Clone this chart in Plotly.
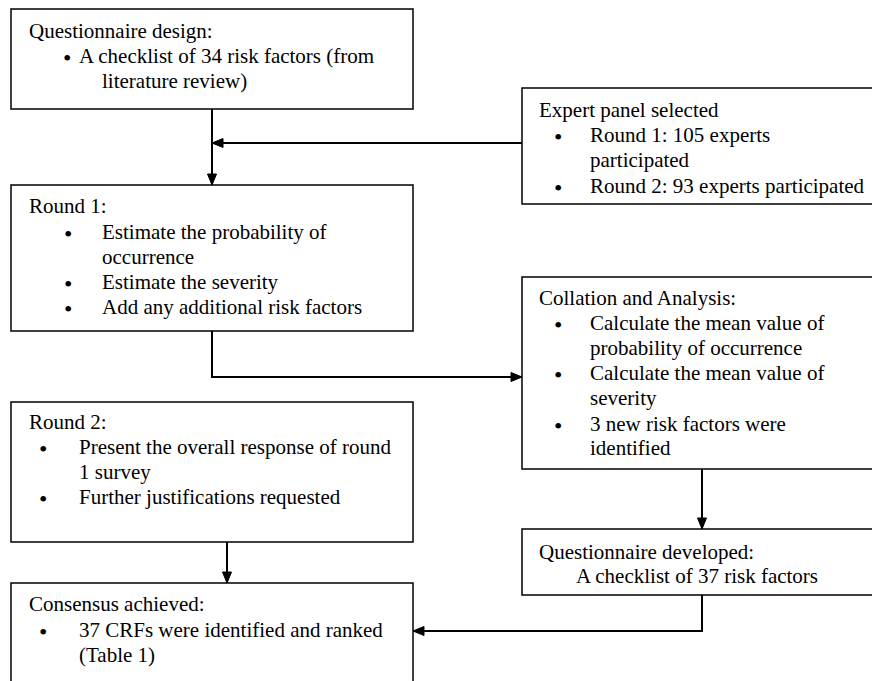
import plotly.graph_objects as go

# ---------------- content (text) ----------------
box_headers = [
    "Questionnaire design:",
    "Expert panel selected",
    "Round 1:",
    "Collation and Analysis:",
    "Round 2:",
    "Questionnaire developed:",
    "Consensus achieved:",
]
# each box: list of bullet items, each item a list of wrapped lines
box_items = [
    [["A checklist of 34 risk factors (from", "literature review)"]],
    [["Round 1: 105 experts", "participated"], ["Round 2: 93 experts participated"]],
    [["Estimate the probability of", "occurrence"], ["Estimate the severity"],
     ["Add any additional risk factors"]],
    [["Calculate the mean value of", "probability of occurrence"],
     ["Calculate the mean value of", "severity"],
     ["3 new risk factors were", "identified"]],
    [["Present the overall response of round", "1 survey"], ["Further justifications requested"]],
    [["A checklist of 37 risk factors"]],
    [["37 CRFs were identified and ranked", "(Table 1)"]],
]
box_bulleted = [True, True, True, True, True, False, True]

# ---------------- layout (positions, px) ----------------
box_rects = [
    (11, 9, 413, 109),
    (522, 88, 876, 204),
    (11, 185, 413, 331),
    (522, 277, 876, 469),
    (11, 402, 413, 542),
    (522, 529, 876, 595),
    (11, 583, 413, 720),
]
header_pos = [(27, 31), (537, 110), (27, 206), (537, 298), (27, 422), (537, 552), (27, 604)]
bullet_x = [67, 558, 68, 558, 43, None, 43]
first_text_x = [77, 588, 100, 588, 77, 574, 77]
cont_text_x = [100, 588, 100, 588, 77, 574, 77]
line_ys = [
    [56, 81],
    [135, 160, 186],
    [232, 257, 282, 307],
    [323, 348, 373, 398, 424, 448],
    [447, 472, 497],
    [576],
    [630, 655],
]
connectors = [
    [(212, 109), (212, 185)],
    [(522, 143), (212, 143)],
    [(212, 331), (212, 377), (522, 377)],
    [(702, 469), (702, 529)],
    [(227, 542), (227, 583)],
    [(702, 595), (702, 631), (413, 631)],
]

W, H = 872, 681
FONT = "Liberation Serif, Times New Roman, serif"
FS = 21

fig = go.Figure()
shapes = []
annotations = []

for i, (x0, y0, x1, y1) in enumerate(box_rects):
    shapes.append(dict(type="rect", xref="x", yref="y", x0=x0, y0=y0, x1=x1, y1=y1,
                       line=dict(color="black", width=1.5), fillcolor="white", layer="below"))
    hx, hy = header_pos[i]
    annotations.append(dict(x=hx, y=hy, xref="x", yref="y", text=box_headers[i],
                            showarrow=False, xanchor="left", yanchor="middle",
                            font=dict(family=FONT, size=FS, color="black")))
    k = 0
    for item in box_items[i]:
        for j, ln in enumerate(item):
            y = line_ys[i][k]
            k += 1
            tx = first_text_x[i] if j == 0 else cont_text_x[i]
            if j == 0 and box_bulleted[i]:
                annotations.append(dict(x=bullet_x[i], y=y + 2, xref="x", yref="y", text="•",
                                        showarrow=False, xanchor="center", yanchor="middle",
                                        font=dict(family=FONT, size=FS + 3, color="black")))
            annotations.append(dict(x=tx, y=y, xref="x", yref="y", text=ln,
                                    showarrow=False, xanchor="left", yanchor="middle",
                                    font=dict(family=FONT, size=FS, color="black")))

for pts in connectors:
    path = "M " + " L ".join(f"{x},{y}" for x, y in pts)
    shapes.append(dict(type="path", xref="x", yref="y", path=path,
                       line=dict(color="black", width=2)))
    (xa, ya), (xb, yb) = pts[-2], pts[-1]
    L, Wd = 11, 4.5
    if xa == xb:
        s = 1 if yb > ya else -1
        tri = f"M {xb},{yb} L {xb - Wd},{yb - s * L} L {xb + Wd},{yb - s * L} Z"
    else:
        s = 1 if xb > xa else -1
        tri = f"M {xb},{yb} L {xb - s * L},{yb - Wd} L {xb - s * L},{yb + Wd} Z"
    shapes.append(dict(type="path", xref="x", yref="y", path=tri,
                       line=dict(color="black", width=1), fillcolor="black"))

fig.update_layout(
    width=W, height=H,
    margin=dict(l=0, r=0, t=0, b=0),
    paper_bgcolor="white", plot_bgcolor="white",
    xaxis=dict(range=[0, W], visible=False, fixedrange=True),
    yaxis=dict(range=[H, 0], visible=False, fixedrange=True),
    shapes=shapes, annotations=annotations, showlegend=False,
)
fig.write_html(
    "out.html",
    config={"displayModeBar": False},
    post_script="document.body.style.margin='0px';document.body.style.overflow='hidden';",
)
